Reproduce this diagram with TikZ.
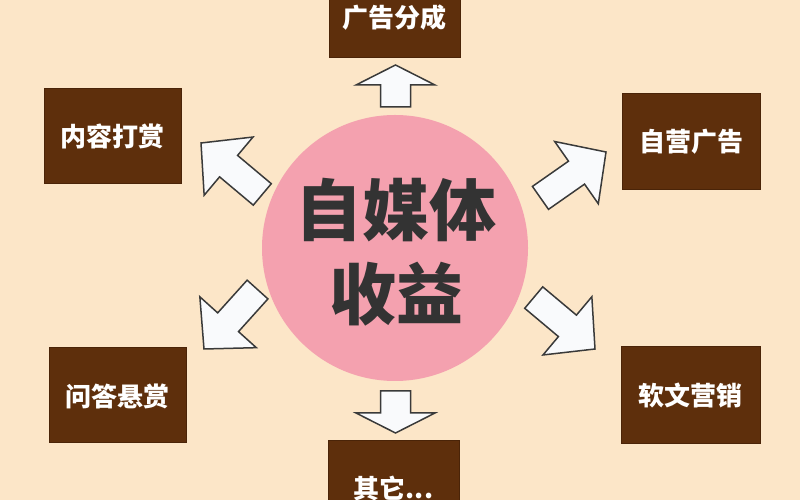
\documentclass[tikz,border=0pt]{standalone}
\usepackage{fontspec}
\newfontfamily\cjk{Noto Sans CJK SC}
\definecolor{bg}{HTML}{FCE6C8}
\definecolor{boxfill}{HTML}{5E2F0C}
\definecolor{boxline}{HTML}{4A2408}
\definecolor{pinkc}{HTML}{F4A1AF}
\definecolor{arrowfill}{HTML}{F9FAFC}
\definecolor{arrowline}{HTML}{3A3A3A}
\definecolor{maintext}{HTML}{333333}
\tikzset{
  brownbox/.style={fill=boxfill,draw=boxline,line width=1pt},
  boxlabel/.style={text=white,font=\cjk\bfseries\fontsize{26}{30}\selectfont,inner sep=0pt},
  blockarrow/.style={fill=arrowfill,draw=arrowline,line width=1.5pt,line join=miter},
  pics/diagarrow/.style={code={
    \draw[blockarrow] (0,0) -- (-36,38) -- (-36,14) -- (-80,14) -- (-80,-14) -- (-36,-14) -- (-36,-38) -- cycle;
  }},
  pics/straightarrow/.style={code={
    \draw[blockarrow] (0,0) -- (-20,39.5) -- (-20,15) -- (-42,15) -- (-42,-15) -- (-20,-15) -- (-20,-39.5) -- cycle;
  }}
}
\begin{document}
\begin{tikzpicture}[x=1pt,y=1pt]
\fill[bg] (0,0) rectangle (800,500);
\useasboundingbox (0,0) rectangle (800,500);
\begin{scope}
\clip (0,0) rectangle (800,500);
% boxes
\draw[brownbox] (329,442) rectangle (460,545);
\node[boxlabel] (top) at (394.5,482) {广告分成};
\draw[brownbox] (44,316) rectangle (181,411);
\node[boxlabel] (nw) at (112.5,363.5) {内容打赏};
\draw[brownbox] (622,310) rectangle (760,406);
\node[boxlabel] (ne) at (691,358) {自营广告};
\draw[brownbox] (49,57) rectangle (186,152);
\node[boxlabel] (sw) at (117.5,104) {问答悬赏};
\draw[brownbox] (621,56) rectangle (760,153);
\node[boxlabel] (se) at (690.5,105) {软文营销};
\draw[brownbox] (328,-40) rectangle (459,59);
\node[boxlabel] (bot) at (393.5,12) {其它...};
% circle
\node[circle,fill=pinkc,minimum size=266pt,inner sep=0pt] (c) at (395,252) {};
\node[text=maintext,font=\cjk\bfseries\fontsize{67}{84}\selectfont,align=center,inner sep=0pt] (ct) at (396,248) {自媒体\\收益};
% arrows
\coordinate (atop) at (395.5,435);
\coordinate (abot) at (395.5,67);
\coordinate (anw) at (201,357);
\coordinate (ane) at (606,348);
\coordinate (ase) at (595,151);
\coordinate (asw) at (204,151);
\pic[rotate=90] at (atop) {straightarrow};
\pic[rotate=-90] at (abot) {straightarrow};
\pic[rotate=140] at (anw) {diagarrow};
\pic[rotate=35] at (ane) {diagarrow};
\pic[rotate=-40] at (ase) {diagarrow};
\pic[rotate=228] at (asw) {diagarrow};
\end{scope}
\end{tikzpicture}
\end{document}
